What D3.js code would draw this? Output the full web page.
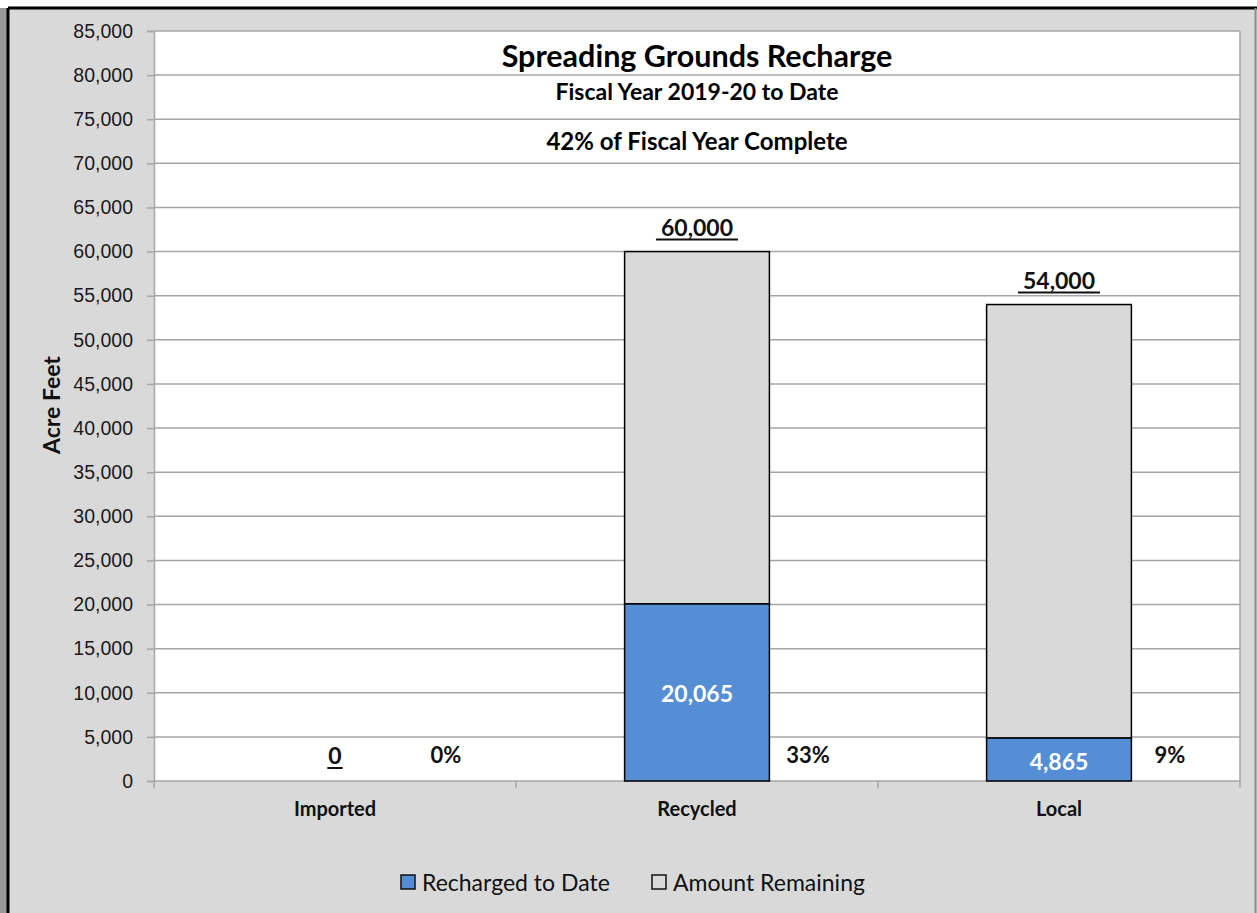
<!DOCTYPE html>
<html lang="en">
<head>
  <meta charset="UTF-8">
  <title>Spreading Grounds Recharge</title>
  <script src="https://d3js.org/d3.v7.min.js"></script>
  <style>
    body, html { margin: 0; padding: 0; background: #fff; }
    svg { display: block; font-family: Lato, "Open Sans", sans-serif; }
  </style>
</head>
<body>
  <svg width="1257" height="913"></svg>
  <script>
    // data
    const categories = ["Imported", "Recycled", "Local"];
    const recharged = [0, 20065, 4865];      // Recharged to Date
    const targets = [0, 60000, 54000];       // annual total
    const yTicks = d3.range(0, 85001, 5000);
    const titleLines = ["Spreading Grounds Recharge", "Fiscal Year 2019-20 to Date", "42% of Fiscal Year Complete"];
    const legendItems = ["Recharged to Date", "Amount Remaining"];

    const svg = d3.select("svg");
    const blue = "#558ed5", grey = "#d9d9d9", gridColor = "#a6a6a6";
    const fmt = d3.format(",");

    // frame
    svg.append("rect").attr("x", 0).attr("y", 8).attr("width", 8).attr("height", 905).attr("fill", "#9a9a9a");
    svg.append("rect").attr("x", 8).attr("y", 8).attr("width", 1249).attr("height", 905).attr("fill", grey);
    svg.append("line").attr("x1", 8).attr("x2", 1257).attr("y1", 8).attr("y2", 8).attr("stroke", "#000").attr("stroke-width", 3);
    svg.append("line").attr("x1", 8).attr("x2", 8).attr("y1", 8).attr("y2", 913).attr("stroke", "#000").attr("stroke-width", 3);
    svg.append("line").attr("x1", 1255.5).attr("x2", 1255.5).attr("y1", 8).attr("y2", 913).attr("stroke", "#8c8c8c").attr("stroke-width", 2);

    const plot = { left: 154, right: 1240, top: 31, bottom: 781 };

    const x = d3.scaleBand().domain(categories).range([plot.left, plot.right]).paddingInner(0).paddingOuter(0);
    const y = d3.scaleLinear().domain([0, 85000]).range([plot.bottom, plot.top]);
    const barW = x.bandwidth() * 0.4;

    // plot area
    svg.append("rect").attr("x", plot.left).attr("y", plot.top)
      .attr("width", plot.right - plot.left).attr("height", plot.bottom - plot.top).attr("fill", "#fff");

    // gridlines
    svg.append("g").selectAll("line").data(yTicks.filter(d => d > 0)).join("line")
      .attr("x1", plot.left).attr("x2", plot.right)
      .attr("y1", d => y(d)).attr("y2", d => y(d))
      .attr("stroke", gridColor).attr("stroke-width", 1.5);
    svg.append("line").attr("x1", plot.right).attr("x2", plot.right).attr("y1", plot.top).attr("y2", plot.bottom)
      .attr("stroke", gridColor).attr("stroke-width", 1.5);

    // y axis
    const yAxis = svg.append("g").attr("transform", `translate(${plot.left},0)`)
      .call(d3.axisLeft(y).tickValues(yTicks).tickFormat(fmt).tickSize(7).tickPadding(14));
    yAxis.select(".domain").attr("stroke", gridColor).attr("stroke-width", 1.5);
    yAxis.selectAll(".tick line").attr("stroke", gridColor).attr("stroke-width", 1.5);
    yAxis.selectAll("text").attr("font-size", 19.5).attr("fill", "#1a1a1a");

    // x axis
    svg.append("line").attr("x1", plot.left).attr("x2", plot.right).attr("y1", plot.bottom).attr("y2", plot.bottom)
      .attr("stroke", gridColor).attr("stroke-width", 1.5);
    const bounds = categories.map(c => x(c)).concat([plot.right]);
    svg.append("g").selectAll("line").data(bounds).join("line")
      .attr("x1", d => d).attr("x2", d => d).attr("y1", plot.bottom).attr("y2", plot.bottom + 7)
      .attr("stroke", gridColor).attr("stroke-width", 1.5);
    svg.append("g").selectAll("text").data(categories).join("text")
      .attr("x", d => x(d) + x.bandwidth() / 2).attr("y", 816)
      .attr("text-anchor", "middle").attr("font-size", 20).attr("font-weight", "bold").attr("fill", "#111")
      .text(d => d);

    // axis title
    svg.append("text").attr("transform", "translate(60,405) rotate(-90)")
      .attr("text-anchor", "middle").attr("font-size", 23).attr("font-weight", "bold").attr("fill", "#111")
      .text("Acre Feet");

    // bars
    const rows = categories.map((c, i) => ({ cat: c, done: recharged[i], total: targets[i] }));
    const bars = svg.append("g");
    rows.filter(d => d.total > 0).forEach(d => {
      const cx = x(d.cat) + x.bandwidth() / 2;
      bars.append("rect").attr("x", cx - barW / 2).attr("y", y(d.total))
        .attr("width", barW).attr("height", y(d.done) - y(d.total))
        .attr("fill", grey).attr("stroke", "#000").attr("stroke-width", 1.5);
      bars.append("rect").attr("x", cx - barW / 2).attr("y", y(d.done))
        .attr("width", barW).attr("height", y(0) - y(d.done))
        .attr("fill", blue).attr("stroke", "#000").attr("stroke-width", 1.5);
      bars.append("text").attr("x", cx).attr("y", (y(d.done) + y(0)) / 2 + 10)
        .attr("text-anchor", "middle").attr("font-size", 23).attr("font-weight", "bold").attr("fill", "#fff")
        .text(fmt(d.done));
    });

    // totals, underlined
    rows.forEach(d => {
      const cx = x(d.cat) + x.bandwidth() / 2;
      const ty = d.total > 0 ? y(d.total) - 16 : plot.bottom - 17;
      const t = svg.append("text").attr("x", cx).attr("y", ty)
        .attr("text-anchor", "middle").attr("font-size", 23).attr("font-weight", "bold").attr("fill", "#111")
        .text(fmt(d.total));
      const bb = t.node().getBBox();
      const pad = d.total > 0 ? 5 : 1;
      svg.append("line").attr("x1", bb.x - pad).attr("x2", bb.x + bb.width + pad)
        .attr("y1", ty + 4).attr("y2", ty + 4).attr("stroke", "#111").attr("stroke-width", 2);
    });

    // percent of total
    const pct = d3.format(".0%");
    svg.append("g").selectAll("text").data(rows).join("text")
      .attr("x", d => x(d.cat) + x.bandwidth() / 2 + 111).attr("y", 763)
      .attr("text-anchor", "middle").attr("font-size", 22).attr("font-weight", "bold").attr("fill", "#111")
      .text(d => pct(d.total > 0 ? d.done / d.total : 0));

    // titles
    const cxPlot = (plot.left + plot.right) / 2;
    svg.append("text").attr("x", cxPlot).attr("y", 67).attr("text-anchor", "middle")
      .attr("font-size", 30.5).attr("font-weight", "bold").attr("fill", "#000").text(titleLines[0]);
    svg.append("text").attr("x", cxPlot).attr("y", 100).attr("text-anchor", "middle")
      .attr("font-size", 23).attr("font-weight", "bold").attr("fill", "#000").text(titleLines[1]);
    svg.append("text").attr("x", cxPlot).attr("y", 150).attr("text-anchor", "middle")
      .attr("font-size", 24).attr("font-weight", "bold").attr("fill", "#000").text(titleLines[2]);

    // legend
    const legend = svg.append("g").attr("transform", "translate(401,875)");
    const legendX = [0, 251];
    legendItems.forEach((name, i) => {
      const g = legend.append("g").attr("transform", `translate(${legendX[i]},0)`);
      g.append("rect").attr("width", 14).attr("height", 14)
        .attr("fill", i === 0 ? blue : grey).attr("stroke", "#111").attr("stroke-width", 1.5);
      g.append("text").attr("x", 21).attr("y", 16).attr("font-size", 23).attr("fill", "#111").text(name);
    });
  </script>
</body>
</html>
